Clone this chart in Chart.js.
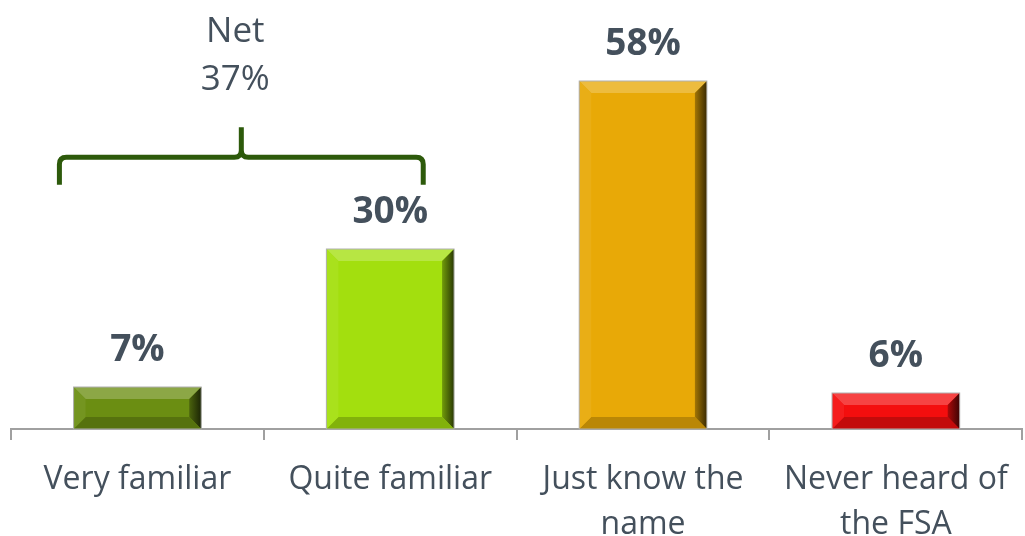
<!DOCTYPE html>
<html>
<head>
<meta charset="utf-8">
<script src="https://cdn.jsdelivr.net/npm/chart.js"></script>
<style>
  html, body { margin: 0; padding: 0; background: #fff; }
  #wrap { width: 1025px; height: 536px; }
</style>
</head>
<body>
<div id="wrap"><canvas id="chart"></canvas></div>
<script>
// data
const categories = [['Very familiar'], ['Quite familiar'], ['Just know the', 'name'], ['Never heard of', 'the FSA']];
const values = [7, 30, 58, 6];
const barColors = ['#6B8E12', '#A3DF0E', '#E8A907', '#F40E0E'];
const netLabel = ['Net', '37%'];

const TEXT = '#44505C';
const FONT = "'Open Sans', Calibri, sans-serif";

function shade(hex, amt) {
  const n = parseInt(hex.slice(1), 16);
  let r = (n >> 16) & 255, g = (n >> 8) & 255, b = n & 255;
  const f = c => amt >= 0 ? Math.round(c + (255 - c) * amt) : Math.round(c * (1 + amt));
  return `rgb(${f(r)},${f(g)},${f(b)})`;
}

// bevel + value labels
const bevelPlugin = {
  id: 'bevel',
  afterDatasetsDraw(chart) {
    const ctx = chart.ctx;
    const meta = chart.getDatasetMeta(0);
    meta.data.forEach((bar, i) => {
      const l = bar.x - bar.width / 2, r = bar.x + bar.width / 2;
      const t = bar.y, b = bar.base;
      const bv = Math.min(12, (b - t) / 2);
      const col = barColors[i];
      const poly = (pts, fill) => {
        ctx.beginPath();
        ctx.moveTo(pts[0][0], pts[0][1]);
        pts.slice(1).forEach(p => ctx.lineTo(p[0], p[1]));
        ctx.closePath();
        ctx.fillStyle = fill;
        ctx.fill();
      };
      ctx.save();
      poly([[l, t], [r, t], [r - bv, t + bv], [l + bv, t + bv]], shade(col, 0.22));
      const gr = ctx.createLinearGradient(r - bv, 0, r, 0);
      gr.addColorStop(0, shade(col, -0.3));
      gr.addColorStop(1, shade(col, -0.75));
      poly([[r, t], [r, b], [r - bv, b - bv], [r - bv, t + bv]], gr);
      poly([[l, b], [r, b], [r - bv, b - bv], [l + bv, b - bv]], shade(col, -0.2));
      poly([[l, t], [l + bv, t + bv], [l + bv, b - bv], [l, b]], shade(col, 0.06));
      ctx.strokeStyle = '#B0B0B0';
      ctx.lineWidth = 1;
      ctx.strokeRect(l, t, r - l, b - t);
      ctx.restore();

      ctx.save();
      ctx.fillStyle = TEXT;
      ctx.font = `bold 37px ${FONT}`;
      ctx.textAlign = 'center';
      ctx.textBaseline = 'middle';
      ctx.fillText(values[i] + '%', bar.x, t - 37);
      ctx.restore();
    });

    // Net bracket over first two bars
    const xs = chart.scales.x, ys = chart.scales.y;
    const x0 = xs.getPixelForValue(0) - 78;
    const x1 = xs.getPixelForValue(1) + 33;
    const xm = (x0 + x1) / 2;
    const yEnd = ys.getPixelForValue(40.7);
    const yMid = ys.getPixelForValue(45.3);
    const yTip = ys.getPixelForValue(50.3);
    const rr = 7;
    ctx.save();
    ctx.strokeStyle = '#2D5A0B';
    ctx.lineWidth = 5;
    ctx.lineJoin = 'round';
    ctx.beginPath();
    ctx.moveTo(x0, yEnd);
    ctx.lineTo(x0, yMid + rr);
    ctx.quadraticCurveTo(x0, yMid, x0 + rr, yMid);
    ctx.lineTo(xm - rr, yMid);
    ctx.quadraticCurveTo(xm, yMid, xm, yMid - rr);
    ctx.lineTo(xm, yTip);
    ctx.moveTo(xm, yMid - rr);
    ctx.quadraticCurveTo(xm, yMid, xm + rr, yMid);
    ctx.lineTo(x1 - rr, yMid);
    ctx.quadraticCurveTo(x1, yMid, x1, yMid + rr);
    ctx.lineTo(x1, yEnd);
    ctx.stroke();

    ctx.fillStyle = TEXT;
    ctx.font = `35px ${FONT}`;
    ctx.textAlign = 'center';
    ctx.textBaseline = 'middle';
    ctx.fillText(netLabel[0], xm - 6, ys.getPixelForValue(66.2));
    ctx.fillText(netLabel[1], xm - 6, ys.getPixelForValue(58.2));
    ctx.restore();
  }
};

new Chart(document.getElementById('chart'), {
  type: 'bar',
  data: {
    labels: categories,
    datasets: [{
      data: values,
      backgroundColor: barColors,
      borderWidth: 0,
      categoryPercentage: 1,
      barPercentage: 0.505
    }]
  },
  options: {
    responsive: true,
    maintainAspectRatio: false,
    animation: false,
    layout: { padding: { left: 11, right: 2, top: 9, bottom: 0 } },
    plugins: { legend: { display: false }, tooltip: { enabled: false } },
    scales: {
      x: {
        grid: { display: true, drawOnChartArea: false, drawTicks: true, tickLength: 11, color: '#A0A0A0', lineWidth: 2 },
        border: { display: true, color: '#A0A0A0', width: 2 },
        ticks: { color: TEXT, font: { family: FONT, size: 32, lineHeight: 1.42 }, padding: 17, maxRotation: 0, autoSkip: false },
        afterFit(scale) { scale.height = 107; }
      },
      y: { display: false, min: 0, max: 70 }
    }
  },
  plugins: [bevelPlugin]
});
</script>
</body>
</html>
